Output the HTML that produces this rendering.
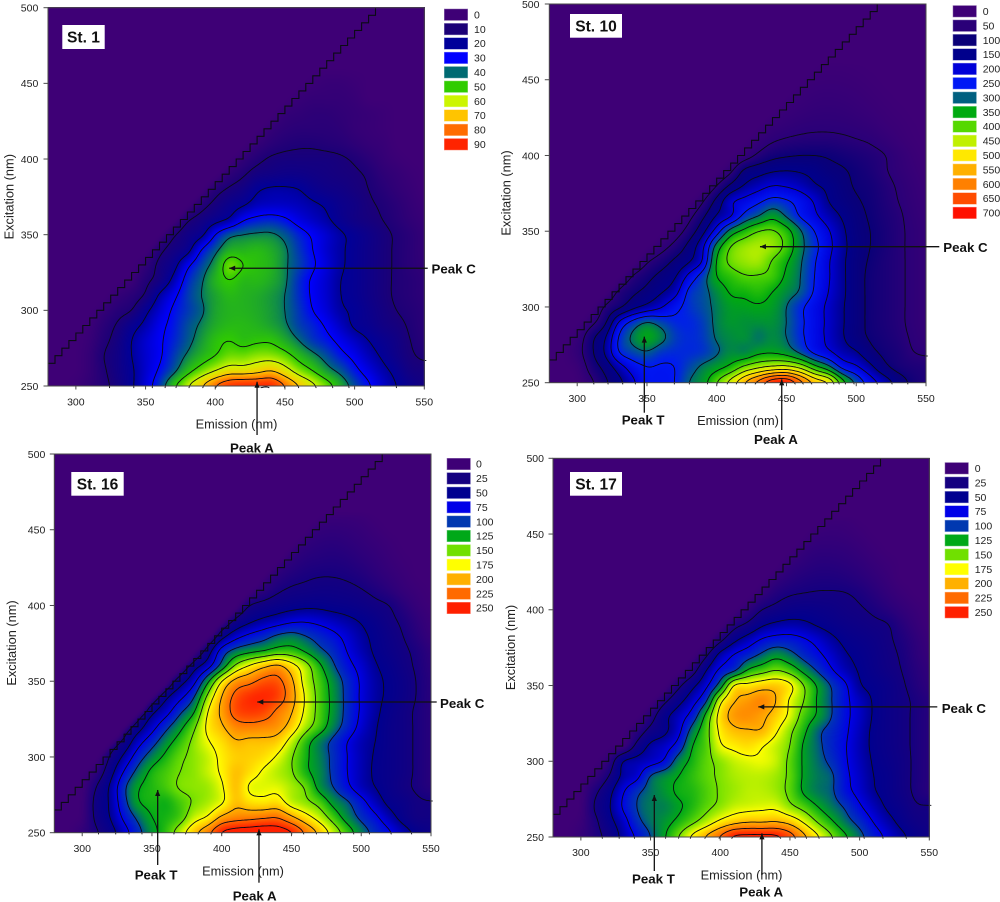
<!DOCTYPE html>
<html lang="en">
<head>
<meta charset="utf-8">
<title>Excitation-emission contour maps for stations 1, 10, 16 and 17</title>
<style>
html,body{margin:0;padding:0;background:#fff;}
#stage{position:relative;width:1000px;height:902px;overflow:hidden;background:#fff;font-family:"Liberation Sans",Arial,sans-serif;filter:blur(0.35px);}
#stage canvas{position:absolute;display:block;}
#overlay{position:absolute;left:0;top:0;}
</style>
</head>
<body>
<div id="stage">
<svg id="overlay" width="1000" height="902" viewBox="0 0 1000 902" xmlns="http://www.w3.org/2000/svg"></svg>
</div>
<script>
// Axes of the value grids
const emissionNm = [280,290,300,310,320,330,340,350,360,370,380,390,400,410,420,430,440,450,460,470,480,490,500,510,520,530,540,550];
const excitationNm = [250,260,270,280,290,300,310,320,330,340,350,360,370,380,390,400,410,420,430,440,450,460];
const xTickLabels = [300,350,400,450,500,550];
const yTickLabels = [250,300,350,400,450,500];

// Legend levels
const st1Levels = [0,10,20,30,40,50,60,70,80,90];
const st10Levels = [0,50,100,150,200,250,300,350,400,450,500,550,600,650,700];
const st16Levels = [0,25,50,75,100,125,150,175,200,225,250];
const st17Levels = [0,25,50,75,100,125,150,175,200,225,250];

// Legend colours
const st1Colors = ['#3e0076','#1c0077','#00009a','#0000ff','#006a72','#30cc00','#ccf500','#ffc400','#ff6c00','#ff2400'];
const st10Colors = ['#3e0076','#2a0078','#0a0078','#00008c','#0000d8','#0018f5','#006080','#00aa10','#55d800','#c0f000','#ffe800','#ffb000','#ff8000','#ff4c00','#ff1000'];
const st16Colors = ['#3e0076','#150080','#000090','#0000e8','#0038b0','#00a818','#70e000','#ffff00','#ffb000','#ff6a00','#ff2000'];
const st17Colors = ['#3e0076','#150080','#000090','#0000e8','#0038b0','#00a818','#70e000','#ffff00','#ffb000','#ff6a00','#ff2000'];

// Intensity grids: one row per excitation wavelength, one value per emission wavelength
const st1Values = [
[0,0,1,4,8,13,19,26,35,48,59,69,80,88,90,90,90,80,70,62,54,45,37,31,25,20,16,13],
[0,0,0,3,9,14,19,25,31,38,47,54,60,65,65,67,70,64,56,50,43,38,32,27,22,18,13,12],
[0,0,0,3,10,14,20,25,29,35,41,46,50,54,54,56,56,53,47,42,37,32,28,23,19,15,11,9],
[0,0,0,2,8,13,20,25,29,33,38,43,48,50,48,49,49,45,40,35,32,28,24,20,17,14,10,7],
[0,0,0,1,6,11,17,22,28,32,37,41,45,47,47,46,44,41,36,33,29,24,19,17,14,12,9,6],
[0,0,0,0,3,7,10,18,25,31,35,39,44,46,46,45,43,40,35,30,26,21,19,16,13,10,8,6],
[0,0,0,0,0,3,6,11,21,28,35,40,44,47,46,45,43,40,34,29,25,20,18,15,12,9,7,5],
[0,0,0,0,0,0,1,8,13,22,33,39,46,50,47,47,45,41,34,29,25,20,18,15,12,9,7,5],
[0,0,0,0,0,0,0,4,12,17,28,36,43,54,50,48,46,41,36,31,26,21,18,15,12,9,6,4],
[0,0,0,0,0,0,0,0,8,13,17,30,38,45,46,47,45,41,35,30,25,21,18,15,12,9,6,3],
[0,0,0,0,0,0,0,0,3,9,14,18,30,38,40,41,41,38,33,29,25,21,18,15,12,9,6,3],
[0,0,0,0,0,0,0,0,0,2,9,13,17,21,29,32,33,31,27,24,21,17,14,12,10,7,4,2],
[0,0,0,0,0,0,0,0,0,0,1,7,12,16,19,23,24,24,23,21,19,16,14,11,9,6,3,1],
[0,0,0,0,0,0,0,0,0,0,0,1,7,11,14,19,21,21,20,17,15,14,12,10,7,4,2,0],
[0,0,0,0,0,0,0,0,0,0,0,0,0,5,9,13,14,15,15,14,13,12,11,9,5,3,1,0],
[0,0,0,0,0,0,0,0,0,0,0,0,0,0,4,8,11,12,12,12,12,11,9,6,3,1,0,0],
[0,0,0,0,0,0,0,0,0,0,0,0,0,0,0,3,6,8,9,9,8,7,5,3,2,0,0,0],
[0,0,0,0,0,0,0,0,0,0,0,0,0,0,0,0,3,5,6,6,6,5,3,2,1,0,0,0],
[0,0,0,0,0,0,0,0,0,0,0,0,0,0,0,0,0,3,4,5,5,4,3,2,1,0,0,0],
[0,0,0,0,0,0,0,0,0,0,0,0,0,0,0,0,0,0,2,3,3,3,2,0,0,0,0,0],
[0,0,0,0,0,0,0,0,0,0,0,0,0,0,0,0,0,0,0,1,2,2,1,0,0,0,0,0],
[0,0,0,0,0,0,0,0,0,0,0,0,0,0,0,0,0,0,0,0,0,0,0,0,0,0,0,0]
];
const st10Values = [
[0,0,2,40,90,135,190,240,240,250,300,330,400,470,550,620,690,700,620,540,500,375,290,225,180,130,90,70],
[0,0,10,70,115,175,225,248,245,250,280,310,335,365,415,445,465,470,440,375,320,240,210,165,115,85,72,65],
[0,0,30,90,155,250,280,295,270,262,262,270,295,320,315,340,345,330,290,240,210,175,155,115,90,75,52,45],
[0,0,20,85,145,255,310,345,315,275,262,272,305,320,325,305,320,300,260,225,190,155,120,95,80,65,45,30],
[0,0,0,35,90,205,265,300,280,260,258,275,310,330,325,325,325,300,260,225,190,155,120,90,75,60,40,25],
[0,0,0,10,55,90,135,165,195,235,265,285,310,335,340,345,335,300,260,225,190,155,120,90,75,60,40,25],
[0,0,0,0,15,60,90,115,145,180,260,285,320,355,360,370,350,320,295,245,200,160,120,90,75,60,40,25],
[0,0,0,0,0,10,55,85,115,145,215,275,350,375,395,395,385,340,300,250,205,160,120,90,75,60,40,25],
[0,0,0,0,0,0,5,45,75,110,145,205,355,410,430,435,395,355,305,255,205,160,120,95,75,60,40,25],
[0,0,0,0,0,0,0,5,30,65,115,190,320,400,430,440,430,385,315,265,215,165,125,100,80,60,40,25],
[0,0,0,0,0,0,0,0,3,25,70,135,225,320,365,400,405,370,305,250,205,160,120,100,80,60,40,25],
[0,0,0,0,0,0,0,0,0,2,35,90,155,195,265,300,335,295,245,210,175,145,115,95,75,58,35,20],
[0,0,0,0,0,0,0,0,0,0,5,45,115,190,215,240,265,255,230,195,150,125,105,90,70,50,30,15],
[0,0,0,0,0,0,0,0,0,0,0,5,50,110,155,180,200,195,180,155,140,115,95,85,65,45,25,10],
[0,0,0,0,0,0,0,0,0,0,0,0,5,40,110,130,145,150,145,135,115,105,90,75,55,35,18,5],
[0,0,0,0,0,0,0,0,0,0,0,0,0,2,25,60,85,95,100,100,95,85,75,65,52,30,12,2],
[0,0,0,0,0,0,0,0,0,0,0,0,0,0,5,25,45,55,60,62,62,58,52,45,30,15,5,0],
[0,0,0,0,0,0,0,0,0,0,0,0,0,0,0,8,20,30,38,42,42,40,35,27,15,8,2,0],
[0,0,0,0,0,0,0,0,0,0,0,0,0,0,0,0,8,15,22,28,30,28,22,15,8,3,0,0],
[0,0,0,0,0,0,0,0,0,0,0,0,0,0,0,0,0,6,12,18,20,18,14,8,3,0,0,0],
[0,0,0,0,0,0,0,0,0,0,0,0,0,0,0,0,0,0,5,9,11,10,7,3,0,0,0,0],
[0,0,0,0,0,0,0,0,0,0,0,0,0,0,0,0,0,0,0,3,4,4,2,0,0,0,0,0]
];
const st16Values = [
[0,0,8,22,40,65,92,118,135,163,193,218,252,262,265,268,265,252,222,195,165,138,112,93,78,60,45,35],
[0,0,2,30,50,80,105,125,130,140,165,178,205,215,218,222,224,205,185,165,140,115,95,80,60,42,30,30],
[0,0,1,32,53,92,123,130,128,140,152,160,172,195,185,182,185,165,155,142,118,103,83,62,45,38,28,26],
[0,0,0,25,53,95,123,132,140,152,155,158,172,195,172,170,170,160,148,118,100,80,62,50,40,30,22,15],
[0,0,0,10,40,77,108,130,140,150,155,165,178,195,185,172,162,152,130,115,95,75,60,47,40,32,22,14],
[0,0,0,0,27,55,88,112,130,146,155,165,180,190,190,185,172,152,130,112,95,75,60,48,40,32,22,14],
[0,0,0,0,18,33,65,90,115,135,155,173,185,198,195,195,190,165,135,112,95,75,60,50,40,32,22,14],
[0,0,0,0,0,20,40,65,93,118,145,180,197,215,218,215,210,190,160,138,112,90,68,52,40,32,22,14],
[0,0,0,0,0,0,27,45,65,95,122,175,205,235,242,238,220,202,170,142,118,93,72,55,42,32,22,14],
[0,0,0,0,0,0,0,25,45,67,97,155,200,232,245,248,240,210,172,142,118,93,72,56,46,36,24,14],
[0,0,0,0,0,0,0,0,20,40,67,120,175,208,218,232,232,205,165,140,115,92,72,56,46,36,24,14],
[0,0,0,0,0,0,0,0,0,15,40,65,110,155,178,195,205,185,160,130,103,82,68,52,43,32,22,12],
[0,0,0,0,0,0,0,0,0,0,5,37,85,108,118,125,135,135,122,105,92,74,60,47,38,29,20,10],
[0,0,0,0,0,0,0,0,0,0,0,8,40,65,80,90,103,108,100,90,80,68,55,45,35,25,14,5],
[0,0,0,0,0,0,0,0,0,0,0,0,10,30,45,55,62,70,72,68,62,55,48,40,30,21,10,3],
[0,0,0,0,0,0,0,0,0,0,0,0,0,8,25,32,38,42,45,45,42,40,36,30,25,14,5,1],
[0,0,0,0,0,0,0,0,0,0,0,0,0,0,5,12,22,28,30,32,32,30,26,20,13,6,2,0],
[0,0,0,0,0,0,0,0,0,0,0,0,0,0,0,5,12,18,22,24,24,22,18,12,7,3,0,0],
[0,0,0,0,0,0,0,0,0,0,0,0,0,0,0,0,5,10,15,17,18,16,12,8,4,1,0,0],
[0,0,0,0,0,0,0,0,0,0,0,0,0,0,0,0,0,5,9,12,13,11,8,5,2,0,0,0],
[0,0,0,0,0,0,0,0,0,0,0,0,0,0,0,0,0,0,4,7,8,7,5,2,0,0,0,0],
[0,0,0,0,0,0,0,0,0,0,0,0,0,0,0,0,0,0,0,2,3,3,2,0,0,0,0,0]
];
const st17Values = [
[0,0,6,18,32,56,78,100,123,150,180,203,228,255,258,258,256,237,206,178,152,128,107,87,70,55,42,32],
[0,0,3,20,42,63,93,108,118,130,145,162,180,192,198,198,200,192,172,148,128,108,93,74,58,44,33,29],
[0,0,0,27,47,77,100,110,112,122,132,145,155,165,168,170,170,155,142,125,110,97,78,62,47,38,27,26],
[0,0,0,20,42,72,95,108,118,128,132,142,152,158,163,163,158,145,122,110,103,82,68,52,43,33,22,15],
[0,0,0,5,25,55,68,102,115,125,135,145,153,160,163,163,158,146,122,110,103,80,65,50,43,32,22,15],
[0,0,0,0,10,50,58,65,78,112,130,145,155,165,170,172,165,145,122,107,95,77,62,48,40,32,22,15],
[0,0,0,0,0,0,31,55,65,85,125,142,172,180,185,176,165,150,122,105,90,76,60,46,38,30,22,15],
[0,0,0,0,0,0,12,32,45,68,110,142,180,195,198,198,178,155,130,105,92,78,62,46,38,30,22,15],
[0,0,0,0,0,0,0,15,43,62,85,132,185,208,212,205,190,170,140,122,100,80,65,48,38,30,22,15],
[0,0,0,0,0,0,0,0,20,42,65,97,168,198,208,215,200,172,150,122,100,80,63,48,38,30,22,15],
[0,0,0,0,0,0,0,0,0,20,44,70,112,178,182,190,192,180,150,122,98,78,52,45,38,28,18,10],
[0,0,0,0,0,0,0,0,0,0,15,50,80,95,128,140,150,140,118,97,77,60,48,40,32,25,15,8],
[0,0,0,0,0,0,0,0,0,0,0,22,58,77,90,105,118,108,92,80,66,52,45,38,30,23,12,5],
[0,0,0,0,0,0,0,0,0,0,0,0,20,45,62,78,85,85,78,68,55,45,40,35,28,20,10,3],
[0,0,0,0,0,0,0,0,0,0,0,0,0,18,30,47,55,58,55,48,42,37,33,29,26,15,6,1],
[0,0,0,0,0,0,0,0,0,0,0,0,0,0,10,25,32,38,40,38,35,30,27,22,15,8,3,0],
[0,0,0,0,0,0,0,0,0,0,0,0,0,0,0,8,18,24,26,27,27,26,22,15,8,3,0,0],
[0,0,0,0,0,0,0,0,0,0,0,0,0,0,0,0,8,14,18,20,20,18,14,9,4,0,0,0],
[0,0,0,0,0,0,0,0,0,0,0,0,0,0,0,0,0,7,11,14,14,12,9,5,2,0,0,0],
[0,0,0,0,0,0,0,0,0,0,0,0,0,0,0,0,0,0,6,9,9,8,5,2,0,0,0,0],
[0,0,0,0,0,0,0,0,0,0,0,0,0,0,0,0,0,0,0,4,5,4,2,0,0,0,0,0],
[0,0,0,0,0,0,0,0,0,0,0,0,0,0,0,0,0,0,0,0,2,2,0,0,0,0,0,0]
];

// Peak annotation targets in data units
const st1Peaks = [{name:'Peak C',em:410,ex:327.8},{name:'Peak A',em:430,ex:252.8}];
const st10Peaks = [{name:'Peak C',em:431,ex:339.8},{name:'Peak A',em:446.6,ex:252.2},{name:'Peak T',em:348.1,ex:280.4}];
const st16Peaks = [{name:'Peak C',em:425.5,ex:336.3},{name:'Peak A',em:426.7,ex:252.2},{name:'Peak T',em:354.1,ex:278.2}];
const st17Peaks = [{name:'Peak C',em:427.3,ex:335.9},{name:'Peak A',em:429.9,ex:252.4},{name:'Peak T',em:352.7,ex:277.7}];

// Layout of the four panels
const panels = [
 {key:'st1',title:'St. 1',values:st1Values,levels:st1Levels,colors:st1Colors,peaks:st1Peaks,tealIndex:4,
  layout:{l:48,t:7.7,r:424.3,b:386,box:[62.3,25,42.4,24],legX:444,legY:8.7,legTx:474,yTickX:38.3,yTitleX:9,yTitleY:196.7,xTickY:401.7,xTitleX:236.5,xTitleY:424,
  notes:{'Peak C':{tail:427.7,lx:431.5,ly:269},'Peak A':{tail:435,lx:230,ly:448}}}},
 {key:'st10',title:'St. 10',values:st10Values,levels:st10Levels,colors:st10Colors,peaks:st10Peaks,tealIndex:6,
  layout:{l:549.3,t:4,r:926,b:382.7,box:[570,14,52,23.7],legX:952.7,legY:5.3,legTx:982.7,yTickX:539.5,yTitleX:506,yTitleY:193,xTickY:398,xTitleX:738,xTitleY:420.7,
  notes:{'Peak C':{tail:939.3,lx:943.3,ly:247.5},'Peak A':{tail:430,lx:754,ly:439.3},'Peak T':{tail:412.7,lx:621.7,ly:420}}}},
 {key:'st16',title:'St. 16',values:st16Values,levels:st16Levels,colors:st16Colors,peaks:st16Peaks,tealIndex:4,
  layout:{l:54.3,t:454,r:431,b:832.7,box:[71.3,472,52.4,23.7],legX:446.7,legY:458,legTx:476,yTickX:45.3,yTitleX:11.7,yTitleY:643,xTickY:848,xTitleX:243,xTitleY:871,
  notes:{'Peak C':{tail:436.7,lx:440,ly:703.3},'Peak A':{tail:882.7,lx:232.7,ly:896},'Peak T':{tail:865,lx:134.7,ly:874.7}}}},
 {key:'st17',title:'St. 17',values:st17Values,levels:st17Levels,colors:st17Colors,peaks:st17Peaks,tealIndex:4,
  layout:{l:553,t:458.3,r:929.3,b:837,box:[570,472,52,23.7],legX:944.7,legY:462.3,legTx:974.7,yTickX:544,yTitleX:510.7,yTitleY:647.5,xTickY:852.3,xTitleX:741.5,xTitleY:875,
  notes:{'Peak C':{tail:937.3,lx:941.7,ly:708.3},'Peak A':{tail:875,lx:739.3,ly:891.7},'Peak T':{tail:871,lx:632,ly:879}}}}
];

const SVGNS = 'http://www.w3.org/2000/svg';
const stage = document.getElementById('stage');
const overlay = document.getElementById('overlay');
const EM_MIN = 280, EM_MAX = 550, EX_MIN = 250, EX_MAX = 500;

function svgEl(tag, parent){
  const el = document.createElementNS(SVGNS, tag);
  parent.appendChild(el);
  return el;
}
function addText(parent, str, x, y, size, anchor, bold){
  const t = svgEl('text', parent);
  t.textContent = str;
  t.setAttribute('x', x);
  t.setAttribute('y', y);
  t.setAttribute('font-size', size);
  t.setAttribute('text-anchor', anchor);
  t.setAttribute('font-family', '"Liberation Sans", Arial, sans-serif');
  t.setAttribute('fill', bold ? '#111' : '#222');
  if (bold) t.setAttribute('font-weight', 'bold');
  return t;
}
function hexToRgb(h){
  return [parseInt(h.slice(1,3),16),parseInt(h.slice(3,5),16),parseInt(h.slice(5,7),16)];
}
function colorAt(v, levels, rgb, teal){
  if (v <= levels[0]) return rgb[0];
  for (let i = 1; i < levels.length; i++){
    if (v <= levels[i]){
      let f = (v - levels[i-1]) / (levels[i] - levels[i-1]);
      if (i - 1 === teal) f = Math.pow(f, 0.6);
      return [0,1,2].map(function(k){ return rgb[i-1][k] + (rgb[i][k] - rgb[i-1][k]) * f; });
    }
  }
  return rgb[rgb.length-1];
}
function catmull(a,b,c,d,t){
  return 0.5*((2*b)+(-a+c)*t+(2*a-5*b+4*c-d)*t*t+(-a+3*b-3*c+d)*t*t*t);
}
function sampleGrid(grid, em, ex){
  if (ex > em - 15) return 0;
  const stepX = emissionNm[1] - emissionNm[0];
  const stepY = excitationNm[1] - excitationNm[0];
  const fx = (em - emissionNm[0]) / stepX;
  const fy = (ex - excitationNm[0]) / stepY;
  const nx = emissionNm.length, ny = excitationNm.length;
  if (fy >= ny - 1) return 0;
  const ix = Math.min(nx - 2, Math.floor(fx));
  const iy = Math.min(ny - 2, Math.floor(fy));
  const tx = fx - ix, ty = fy - iy;
  const col = [];
  for (let j = -1; j <= 2; j++){
    const r = grid[Math.max(0, Math.min(ny - 1, iy + j))];
    const p = function(i){ return r[Math.max(0, Math.min(nx - 1, i))]; };
    col.push(catmull(p(ix-1), p(ix), p(ix+1), p(ix+2), tx));
  }
  return Math.max(0, catmull(col[0], col[1], col[2], col[3], ty));
}
function smoothField(field, cols, rowsN){
  const kernel = [1,2,3,2,1];
  const tmp = [];
  for (let j = 0; j < rowsN; j++){
    const row = new Float32Array(cols);
    for (let i = 0; i < cols; i++){
      let s = 0;
      for (let k = -2; k <= 2; k++) s += kernel[k+2] * field[j][Math.max(0, Math.min(cols - 1, i + k))];
      row[i] = s / 9;
    }
    tmp.push(row);
  }
  const out = [];
  for (let j = 0; j < rowsN; j++){
    const row = new Float32Array(cols);
    for (let i = 0; i < cols; i++){
      let s = 0;
      for (let k = -2; k <= 2; k++) s += kernel[k+2] * tmp[Math.max(0, Math.min(rowsN - 1, j + k))][i];
      row[i] = s / 9;
    }
    out.push(row);
  }
  return out;
}

function drawPanel(p){
  const L = p.layout;
  const xScale = function(em){ return L.l + (em - EM_MIN) / (EM_MAX - EM_MIN) * (L.r - L.l); };
  const yScale = function(ex){ return L.b - (ex - EX_MIN) / (EX_MAX - EX_MIN) * (L.b - L.t); };
  const xInv = function(px){ return EM_MIN + (px - L.l) / (L.r - L.l) * (EM_MAX - EM_MIN); };
  const yInv = function(py){ return EX_MIN + (L.b - py) / (L.b - L.t) * (EX_MAX - EX_MIN); };
  const rgb = p.colors.map(hexToRgb);

  // Sampled field from the value grid
  const step = 2;
  const cols = Math.ceil((L.r - L.l) / step) + 1;
  const rowsN = Math.ceil((L.b - L.t) / step) + 1;
  const raw = [];
  for (let j = 0; j < rowsN; j++){
    const row = new Float32Array(cols);
    const py = Math.min(L.b, L.t + j * step);
    for (let i = 0; i < cols; i++){
      const px = Math.min(L.r, L.l + i * step);
      row[i] = sampleGrid(p.values, xInv(px), yInv(py));
    }
    raw.push(row);
  }
  const field = smoothField(raw, cols, rowsN);

  // Filled intensity field
  const left = Math.floor(L.l), top = Math.floor(L.t);
  const w = Math.ceil(L.r) - left, h = Math.ceil(L.b) - top;
  const cv = document.createElement('canvas');
  
  
  cv.width = w; cv.height = h;
  cv.style.left = left + 'px';
  cv.style.top = top + 'px';
  stage.insertBefore(cv, overlay);
  const ctx = cv.getContext('2d');
  const img = ctx.createImageData(w, h);
  for (let y = 0; y < h; y++){
    const fy = Math.max(0, Math.min(rowsN - 1.001, (top + y + 0.5 - L.t) / step));
    const j0 = Math.floor(fy), ty = fy - j0;
    for (let x = 0; x < w; x++){
      const fx = Math.max(0, Math.min(cols - 1.001, (left + x + 0.5 - L.l) / step));
      const i0 = Math.floor(fx), tx = fx - i0;
      const v = (field[j0][i0] * (1 - tx) + field[j0][i0+1] * tx) * (1 - ty) + (field[j0+1][i0] * (1 - tx) + field[j0+1][i0+1] * tx) * ty;
      const c = colorAt(v, p.levels, rgb, p.tealIndex);
      const o = (y * w + x) * 4;
      img.data[o] = c[0]; img.data[o+1] = c[1]; img.data[o+2] = c[2]; img.data[o+3] = 255;
    }
  }
  ctx.putImageData(img, 0, 0);

  const g = svgEl('g', overlay);
  
  

  // Contour lines by marching squares
  const contours = svgEl('g', g);
  
  
  p.levels.slice(1).forEach(function(level){
    let d = '';
    for (let j = 0; j < rowsN - 1; j++){
      for (let i = 0; i < cols - 1; i++){
        const a = field[j][i], b = field[j][i+1], c = field[j+1][i+1], e = field[j+1][i];
        const idx = (a >= level ? 8 : 0) | (b >= level ? 4 : 0) | (c >= level ? 2 : 0) | (e >= level ? 1 : 0);
        if (idx === 0 || idx === 15) continue;
        const x0 = L.l + i * step, y0 = L.t + j * step;
        const pts = [];
        if ((a >= level) !== (b >= level)) pts.push([x0 + step * (level - a) / (b - a), y0]);
        if ((b >= level) !== (c >= level)) pts.push([x0 + step, y0 + step * (level - b) / (c - b)]);
        if ((e >= level) !== (c >= level)) pts.push([x0 + step * (level - e) / (c - e), y0 + step]);
        if ((a >= level) !== (e >= level)) pts.push([x0, y0 + step * (level - a) / (e - a)]);
        for (let k = 0; k + 1 < pts.length; k += 2){
          d += 'M' + pts[k][0].toFixed(1) + ' ' + pts[k][1].toFixed(1) + 'L' + pts[k+1][0].toFixed(1) + ' ' + pts[k+1][1].toFixed(1);
        }
      }
    }
    if (!d) return;
    const path = svgEl('path', contours);
    
    
    path.setAttribute('d', d);
    path.setAttribute('fill', 'none');
    path.setAttribute('stroke', '#0b0b14');
    path.setAttribute('stroke-width', '0.9');
    path.setAttribute('stroke-linecap', 'round');
  });

  // Staircase scatter limit
  let stairs = 'M' + xScale(EM_MIN) + ' ' + yScale(EM_MIN - 15);
  for (let em = EM_MIN + 5; em <= 515; em += 5){
    stairs += 'L' + xScale(em).toFixed(1) + ' ' + yScale(em - 20).toFixed(1);
    stairs += 'L' + xScale(em).toFixed(1) + ' ' + yScale(em - 15).toFixed(1);
  }
  const stair = svgEl('path', g);
  
  
  stair.setAttribute('d', stairs);
  stair.setAttribute('fill', 'none');
  stair.setAttribute('stroke', '#0b0b14');
  stair.setAttribute('stroke-width', '1.1');

  // Frame
  const frame = svgEl('rect', g);
  
  
  frame.setAttribute('x', L.l);
  frame.setAttribute('y', L.t);
  frame.setAttribute('width', L.r - L.l);
  frame.setAttribute('height', L.b - L.t);
  frame.setAttribute('fill', 'none');
  frame.setAttribute('stroke', '#4a4a4a');
  frame.setAttribute('stroke-width', '1');

  // X axis
  xTickLabels.forEach(function(v){
    const tick = svgEl('line', g);
    
    
    tick.setAttribute('x1', xScale(v)); tick.setAttribute('x2', xScale(v));
    tick.setAttribute('y1', L.b); tick.setAttribute('y2', L.b + 3.5);
    tick.setAttribute('stroke', '#4a4a4a');
    const t = addText(g, String(v), xScale(v), L.xTickY + 3.8, 10.5, 'middle', false);
    
    
  });
  // Y axis
  yTickLabels.forEach(function(v){
    const tick = svgEl('line', g);
    
    
    tick.setAttribute('x1', L.l - 4.5); tick.setAttribute('x2', L.l);
    tick.setAttribute('y1', yScale(v)); tick.setAttribute('y2', yScale(v));
    tick.setAttribute('stroke', '#4a4a4a');
    const t = addText(g, String(v), L.yTickX, yScale(v) + 3.8, 10.5, 'end', false);
    
    
  });
  const xt = addText(g, 'Emission (nm)', L.xTitleX, L.xTitleY + 4.4, 12.8, 'middle', false);
  
  
  const yt = addText(g, 'Excitation (nm)', 0, 0, 12.8, 'middle', false);
  
  
  yt.setAttribute('transform', 'translate(' + (L.yTitleX + 4.4) + ' ' + L.yTitleY + ') rotate(-90)');

  // Legend
  p.levels.forEach(function(level, i){
    const y = L.legY + i * 14.4;
    const sw = svgEl('rect', g);
    
    
    sw.setAttribute('x', L.legX + 0.5);
    sw.setAttribute('y', y + 0.5);
    sw.setAttribute('width', 23);
    sw.setAttribute('height', 11);
    sw.setAttribute('fill', p.colors[i]);
    sw.setAttribute('stroke', p.colors[i]);
    sw.setAttribute('stroke-opacity', '0.5');
    const t = addText(g, String(level), L.legTx, y + 9.7, 10.5, 'start', false);
    
    
  });

  // Station label
  const box = svgEl('rect', g);
  
  
  box.setAttribute('x', L.box[0]);
  box.setAttribute('y', L.box[1]);
  box.setAttribute('width', L.box[2]);
  box.setAttribute('height', L.box[3]);
  box.setAttribute('fill', '#fff');
  const st = addText(g, p.title, L.box[0] + L.box[2] / 2, L.box[1] + L.box[3] / 2 + 5.5, 15.6, 'middle', true);
  
  

  // Peak annotations
  p.peaks.forEach(function(pk){
    const note = L.notes[pk.name];
    const tx = xScale(pk.em), ty = yScale(pk.ex);
    const horizontal = pk.name === 'Peak C';
    const ln = svgEl('line', g);
    
    
    ln.setAttribute('x1', horizontal ? note.tail : tx);
    ln.setAttribute('y1', horizontal ? ty : note.tail);
    ln.setAttribute('x2', tx);
    ln.setAttribute('y2', ty);
    ln.setAttribute('stroke', '#111');
    ln.setAttribute('stroke-width', '1.3');
    const head = svgEl('polygon', g);
    
    
    head.setAttribute('points', horizontal
      ? tx + ',' + ty + ' ' + (tx + 6) + ',' + (ty - 2.6) + ' ' + (tx + 6) + ',' + (ty + 2.6)
      : tx + ',' + ty + ' ' + (tx - 2.6) + ',' + (ty + 6) + ' ' + (tx + 2.6) + ',' + (ty + 6));
    head.setAttribute('fill', '#111');
    const t = addText(g, pk.name, note.lx, note.ly + 4.7, 13.3, 'start', true);
    
    
  });
}
panels.forEach(drawPanel);
</script>
</body>
</html>
